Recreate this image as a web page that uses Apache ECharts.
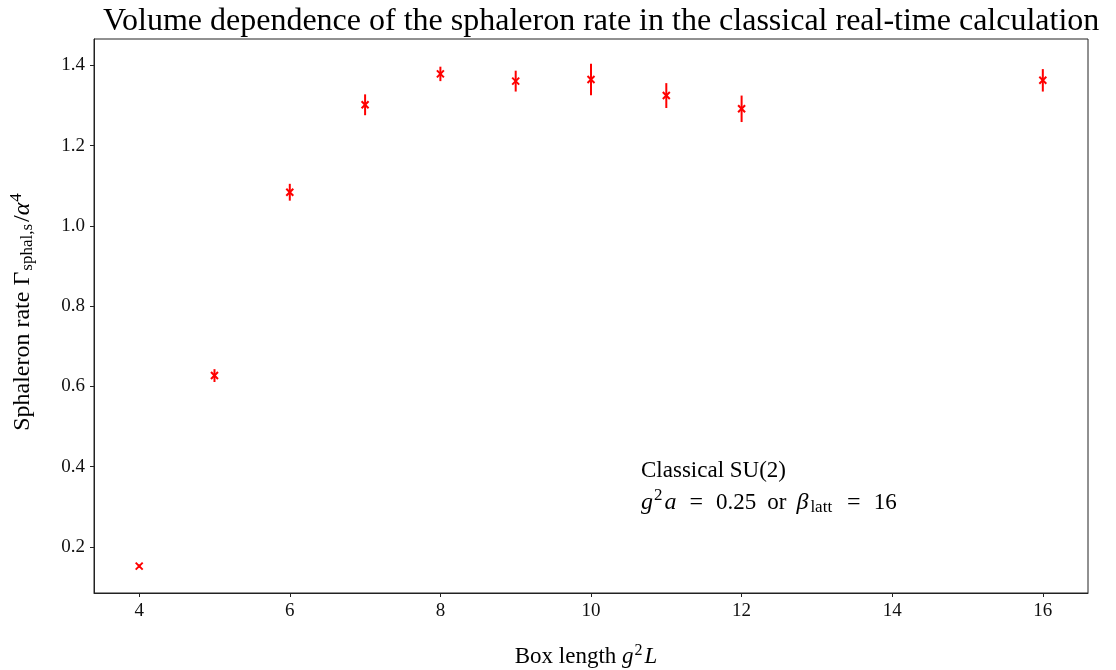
<!DOCTYPE html>
<html>
<head>
<meta charset="utf-8">
<script src="https://cdn.jsdelivr.net/npm/echarts@6/dist/echarts.min.js"></script>
<style>
html,body{margin:0;padding:0;background:#fff;}
#chart{width:1116px;height:670px;}
</style>
</head>
<body>
<div id="chart"></div>
<script>
const boxLength = [4, 5, 6, 7, 8, 9, 10, 11, 12, 16];
const rate = [0.152, 0.627, 1.084, 1.302, 1.379, 1.361, 1.365, 1.325, 1.292, 1.363];
const rateErr = [0.004, 0.016, 0.021, 0.026, 0.018, 0.026, 0.039, 0.031, 0.033, 0.028];
const xTicks = [4, 6, 8, 10, 12, 14, 16];
const yTicks = [0.2, 0.4, 0.6, 0.8, 1.0, 1.2, 1.4];

const FONT = '"Liberation Serif", "DejaVu Serif", serif';
const data = boxLength.map((x, i) => [x, rate[i], rateErr[i]]);

const chart = echarts.init(document.getElementById('chart'), null, {renderer: 'canvas'});
chart.setOption({
  backgroundColor: '#fff',
  animation: false,
  title: {
    text: 'Volume dependence of the sphaleron rate in the classical real-time calculation',
    left: 98,
    top: 1,
    textStyle: {fontFamily: FONT, fontSize: 32, fontWeight: 'normal', color: '#000'}
  },
  grid: {left: 94, right: 28, top: 39, bottom: 77, show: true, borderColor: '#222', borderWidth: 1,
         containLabel: false, outerBoundsMode: 'none'},
  xAxis: {
    type: 'value', min: 3.4, max: 16.6,
    name: '{n|Box length }{i|g}{s|2}{i|L}',
    nameLocation: 'middle', nameGap: 50,
    nameTextStyle: {
      fontFamily: FONT, fontSize: 23, color: '#000', padding: [0, 10, 0, 0],
      rich: {
        n: {fontFamily: FONT, fontSize: 23, color: '#000'},
        i: {fontFamily: FONT, fontSize: 23, fontStyle: 'italic', color: '#000'},
        s: {fontFamily: FONT, fontSize: 16, color: '#000', padding: [0, 2, 12, 1]}
      }
    },
    axisLine: {show: true, lineStyle: {color: '#222', width: 1}},
    axisTick: {show: true, length: 4, lineStyle: {color: '#222'}, customValues: xTicks},
    axisLabel: {fontFamily: FONT, fontSize: 19, color: '#111', margin: 9, customValues: xTicks, formatter: v => String(v)},
    splitLine: {show: false}
  },
  yAxis: {
    type: 'value', min: 0.085, max: 1.466,
    name: '{n|Sphaleron rate Γ}{sub|sphal,s}{n|/}{i|α}{s|4}',
    nameLocation: 'middle', nameGap: 57, nameRotate: 90,
    nameTextStyle: {
      fontFamily: FONT, fontSize: 24, color: '#000', padding: [0, 0, 0, 8],
      rich: {
        n: {fontFamily: FONT, fontSize: 24, color: '#000'},
        i: {fontFamily: FONT, fontSize: 24, fontStyle: 'italic', color: '#000'},
        sub: {fontFamily: FONT, fontSize: 17, color: '#000', padding: [10, 2, 0, 1]},
        s: {fontFamily: FONT, fontSize: 17, color: '#000', padding: [0, 0, 12, 1]}
      }
    },
    axisLine: {show: true, lineStyle: {color: '#222', width: 1}},
    axisTick: {show: true, length: 4, lineStyle: {color: '#222'}, customValues: yTicks},
    axisLabel: {fontFamily: FONT, fontSize: 19, color: '#111', margin: 9, customValues: yTicks, formatter: v => v.toFixed(1)},
    splitLine: {show: false}
  },
  graphic: [{
    type: 'text', left: 641, top: 455,
    style: {
      text: '{n|Classical SU(2)}\n{i|g}{s|2}{i|a}{eq|=}{n|0.25}{n2|or}{i|β}{sub|latt}{eq|=}{n|16}',
      fontFamily: FONT, fontSize: 23, fill: '#000', lineHeight: 32,
      rich: {
        n: {fontFamily: FONT, fontSize: 23, fill: '#000', lineHeight: 32},
        n2: {fontFamily: FONT, fontSize: 23, fill: '#000', lineHeight: 32, padding: [0, 10, 0, 11]},
        eq: {fontFamily: FONT, fontSize: 24, fill: '#000', lineHeight: 32, padding: [0, 13, 0, 13]},
        i: {fontFamily: FONT, fontSize: 24, fontStyle: 'italic', fill: '#000', lineHeight: 32},
        s: {fontFamily: FONT, fontSize: 17, fill: '#000', lineHeight: 32, padding: [0, 2, 14, 1]},
        sub: {fontFamily: FONT, fontSize: 17, fill: '#000', lineHeight: 32, padding: [10, 2, 0, 2]}
      }
    }
  }],
  series: [{
    type: 'custom',
    data: data,
    encode: {x: 0, y: 1},
    renderItem: function (params, api) {
      const x = api.value(0), y = api.value(1), e = api.value(2);
      const c = api.coord([x, y]);
      const top = api.coord([x, y + e]);
      const bot = api.coord([x, y - e]);
      const h = 3.5;
      const st = {stroke: '#ff0000', lineWidth: 2};
      return {
        type: 'group',
        children: [
          {type: 'line', shape: {x1: top[0], y1: top[1], x2: bot[0], y2: bot[1]}, style: st},
          {type: 'line', shape: {x1: c[0] - h, y1: c[1] - h, x2: c[0] + h, y2: c[1] + h}, style: st},
          {type: 'line', shape: {x1: c[0] - h, y1: c[1] + h, x2: c[0] + h, y2: c[1] - h}, style: st}
        ]
      };
    }
  }]
});
</script>
</body>
</html>
